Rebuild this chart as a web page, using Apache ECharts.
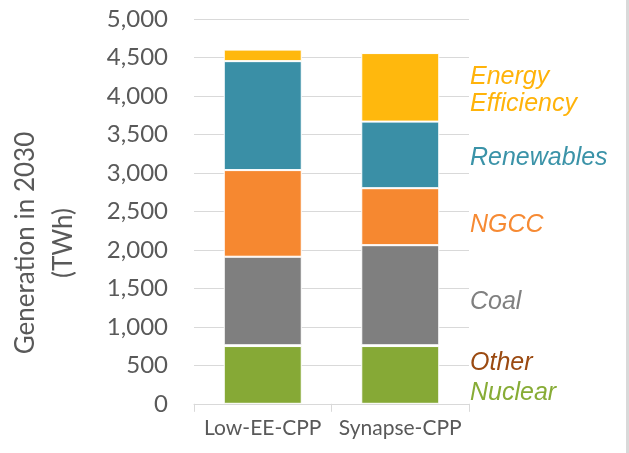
<!DOCTYPE html>
<html>
<head>
<meta charset="utf-8">
<script src="https://cdn.jsdelivr.net/npm/echarts@6/dist/echarts.min.js"></script>
<style>html,body{margin:0;padding:0;background:#fff}#c{width:629px;height:453px}</style>
</head>
<body>
<div id="c"></div>
<script>
var categories = ['Low-EE-CPP', 'Synapse-CPP'];
var nuclear = [750, 750];
var other = [10, 10];
var coal = [1150, 1300];
var ngcc = [1125, 740];
var renewables = [1415, 865];
var energyEfficiency = [150, 890];
var yTicks = [0, 500, 1000, 1500, 2000, 2500, 3000, 3500, 4000, 4500, 5000];

var chart = echarts.init(document.getElementById('c'), null, {renderer: 'canvas'});
function mk(name, data, color) {
  return {
    name: name, type: 'bar', stack: 'total', data: data, barWidth: 78,
    itemStyle: {color: color, borderColor: '#ffffff', borderWidth: 1},
    emphasis: {disabled: true}, animation: false
  };
}
var labelFont = 'italic 25px "Liberation Sans", Arial, sans-serif';
function lbl(text, y, color) {
  return {type: 'text', x: 470, y: y, style: {text: text, fill: color, font: labelFont, textAlign: 'left', textVerticalAlign: 'middle', verticalAlign: 'middle'}};
}
chart.setOption({
  animation: false,
  grid: {left: 194, right: 160, top: 18.8, bottom: 49.2, containLabel: false},
  xAxis: {
    type: 'category', data: categories,
    axisLine: {show: true, lineStyle: {color: '#D9D9D9', width: 1}},
    axisTick: {show: true, length: 8, lineStyle: {color: '#D9D9D9'}},
    axisLabel: {color: '#595959', fontFamily: 'Lato', fontSize: 21, margin: 14, interval: 0, hideOverlap: false}
  },
  yAxis: {
    type: 'value', min: yTicks[0], max: yTicks[yTicks.length - 1], interval: 500,
    axisLine: {show: false}, axisTick: {show: false},
    splitLine: {lineStyle: {color: '#D9D9D9', width: 1}},
    axisLabel: {color: '#595959', fontFamily: 'Lato', fontSize: 24, margin: 26,
      formatter: function (v) { return v.toLocaleString('en-US'); }}
  },
  series: [
    mk('Nuclear', nuclear, '#86A936'),
    mk('Other', other, '#9B4A12'),
    mk('Coal', coal, '#7F7F7F'),
    mk('NGCC', ngcc, '#F68830'),
    mk('Renewables', renewables, '#3A8FA6'),
    mk('Energy Efficiency', energyEfficiency, '#FFB80D')
  ],
  graphic: [
    {type: 'rect', shape: {x: 626, y: 0, width: 3, height: 453}, style: {fill: '#D9D9D9'}},
    {type: 'text', x: 26, y: 243, rotation: Math.PI / 2,
      style: {text: 'Generation in 2030', fill: '#595959', font: '26px Lato', textAlign: 'center', textVerticalAlign: 'middle', verticalAlign: 'middle'}},
    {type: 'text', x: 64, y: 243, rotation: Math.PI / 2,
      style: {text: '(TWh)', fill: '#595959', font: '26px Lato', textAlign: 'center', textVerticalAlign: 'middle', verticalAlign: 'middle'}},
    lbl('Energy', 77.5, '#FFB30A'),
    lbl('Efficiency', 104, '#FFB30A'),
    lbl('Renewables', 158, '#3B93A8'),
    lbl('NGCC', 225, '#F68A33'),
    lbl('Coal', 302.5, '#808080'),
    lbl('Other', 363, '#9B4A11'),
    lbl('Nuclear', 393, '#87AC36')
  ]
});
</script>
</body>
</html>
